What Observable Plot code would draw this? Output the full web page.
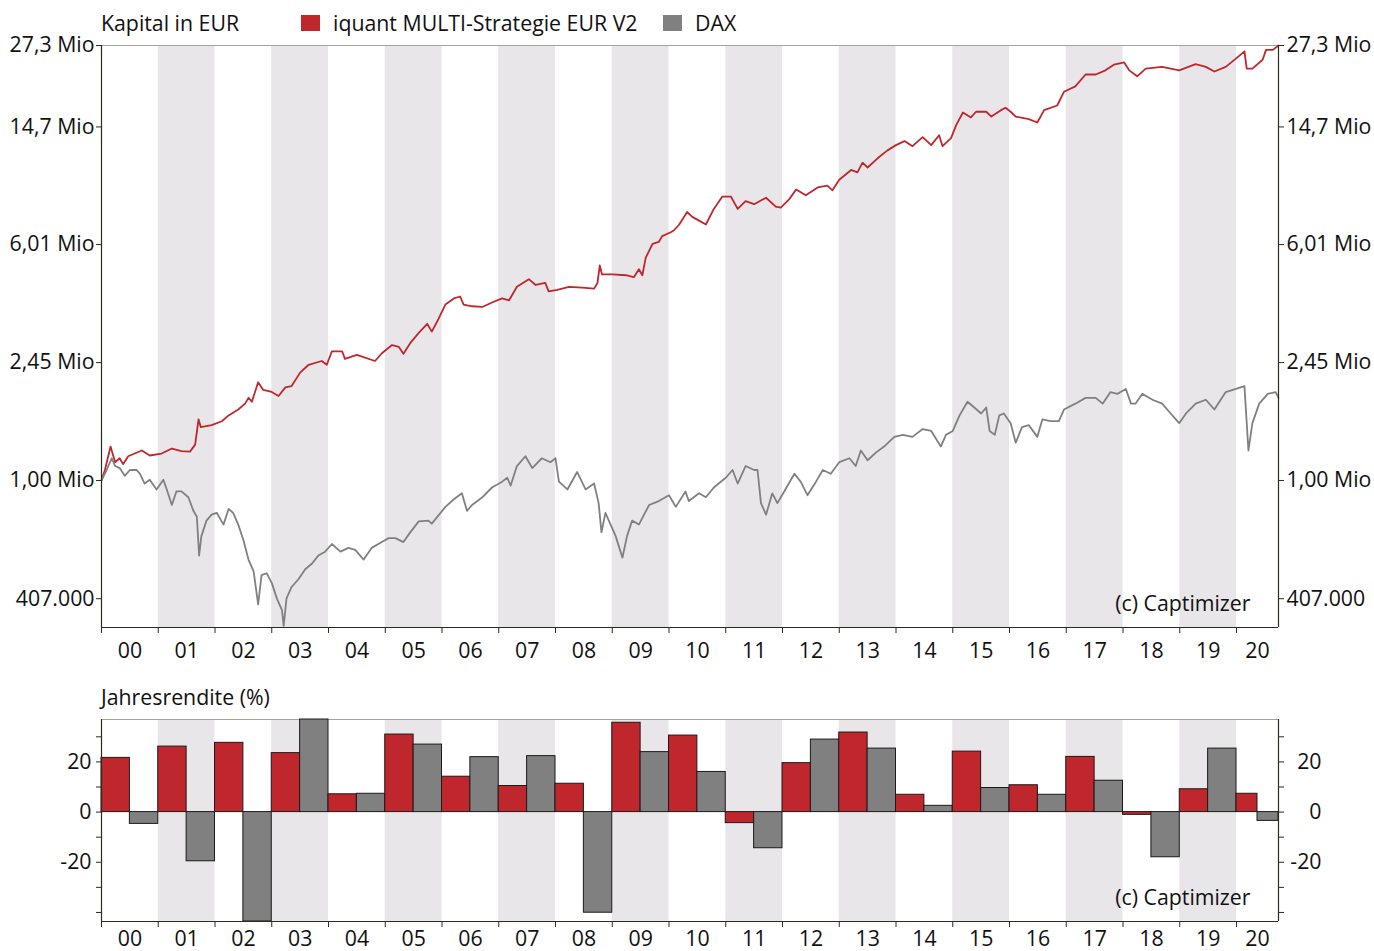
<!DOCTYPE html>
<html><head><meta charset="utf-8">
<script src="https://cdn.jsdelivr.net/npm/d3@7"></script>
<script src="https://cdn.jsdelivr.net/npm/@observablehq/plot@0.6"></script>
<style>
body{margin:0;background:#fff;font-family:"Open Sans",sans-serif;color:#111}
#wrap{position:relative;width:1374px;height:951px;overflow:hidden;background:#fff}
.abs{position:absolute}
.lbl{font-size:21.3px;line-height:22px;white-space:nowrap;color:#111}
.sw{position:absolute;width:19px;height:16px}
</style></head><body>
<div id="wrap">
 <div id="top" class="abs" style="left:0;top:0"></div>
 <div id="bot" class="abs" style="left:0;top:670px"></div>
 <div class="abs lbl" style="left:101px;top:12px">Kapital in EUR</div>
 <div class="sw" style="left:301px;top:15px;background:#c0272d"></div>
 <div class="abs lbl" style="left:333px;top:12px">iquant MULTI-Strategie EUR V2</div>
 <div class="sw" style="left:663px;top:15px;background:#808080"></div>
 <div class="abs lbl" style="left:695px;top:12px">DAX</div>
 <div class="abs lbl" style="left:101px;top:686px">Jahresrendite (%)</div>
</div>
<script>
// ---------------- DATA ----------------
const seriesNames = ["iquant MULTI-Strategie EUR V2", "DAX"];
const startYear = 2000, endYear = 2020.74;
const years = [2000,2001,2002,2003,2004,2005,2006,2007,2008,2009,2010,2011,2012,2013,2014,2015,2016,2017,2018,2019,2020];
const yearLabels = ["00","01","02","03","04","05","06","07","08","09","10","11","12","13","14","15","16","17","18","19","20"];

// Kapital (Mio EUR) – strategy
const redYears = [2000.00,2000.06,2000.16,2000.24,2000.32,2000.38,2000.47,2000.71,2000.85,2001.06,2001.24,2001.41,2001.56,2001.65,2001.71,2001.75,2001.94,2002.12,2002.24,2002.41,2002.53,2002.59,2002.65,2002.76,2002.85,2003.00,2003.12,2003.24,2003.35,2003.50,2003.65,2003.88,2003.97,2004.06,2004.24,2004.29,2004.50,2004.82,2004.94,2005.12,2005.24,2005.32,2005.44,2005.59,2005.74,2005.82,2005.94,2006.06,2006.21,2006.32,2006.38,2006.53,2006.71,2006.88,2007.06,2007.18,2007.32,2007.53,2007.65,2007.82,2007.88,2008.03,2008.24,2008.47,2008.68,2008.74,2008.78,2008.82,2009.00,2009.24,2009.38,2009.47,2009.53,2009.59,2009.71,2009.82,2009.88,2010.03,2010.09,2010.18,2010.32,2010.41,2010.53,2010.65,2010.79,2010.94,2011.09,2011.21,2011.35,2011.50,2011.71,2011.88,2011.97,2012.12,2012.24,2012.41,2012.62,2012.79,2012.88,2013.00,2013.21,2013.32,2013.41,2013.50,2013.68,2013.85,2014.00,2014.15,2014.29,2014.47,2014.62,2014.76,2014.82,2014.97,2015.06,2015.18,2015.32,2015.41,2015.59,2015.68,2015.85,2015.93,2016.02,2016.11,2016.34,2016.49,2016.61,2016.84,2016.96,2017.16,2017.34,2017.52,2017.69,2017.84,2018.02,2018.11,2018.25,2018.40,2018.69,2018.99,2019.28,2019.46,2019.61,2019.81,2019.99,2020.14,2020.18,2020.28,2020.46,2020.52,2020.64,2020.74];
const redValues = [1.00,1.083,1.294,1.149,1.184,1.132,1.202,1.256,1.209,1.227,1.275,1.249,1.245,1.313,1.592,1.50,1.523,1.569,1.640,1.715,1.793,1.874,1.82,2.11,1.99,1.96,1.90,2.03,2.05,2.27,2.41,2.48,2.41,2.67,2.67,2.52,2.60,2.48,2.63,2.80,2.76,2.62,2.84,3.07,3.29,3.10,3.42,3.81,3.99,4.05,3.81,3.76,3.74,3.87,3.99,3.93,4.36,4.62,4.42,4.49,4.21,4.26,4.36,4.33,4.30,4.49,5.13,4.79,4.79,4.76,4.69,4.98,4.76,5.44,6.04,6.13,6.41,6.60,6.70,7.00,7.70,7.42,7.21,7.00,7.88,8.66,8.66,7.88,8.36,8.17,8.58,8.02,7.96,8.49,9.14,8.74,9.28,9.41,9.08,9.84,10.6,10.4,11.2,10.8,11.6,12.3,12.8,13.2,12.7,13.6,12.8,13.8,12.7,13.5,14.9,16.4,15.8,16.5,16.5,15.9,16.7,17.0,16.5,15.9,15.6,15.2,16.7,17.3,19.2,20.0,21.9,21.9,22.6,23.6,24.0,22.6,21.6,22.9,23.2,22.6,23.7,23.2,22.4,23.2,24.7,26.1,22.9,22.9,24.5,26.4,26.4,27.3];

// Kapital (Mio EUR) – DAX
const daxYears = [2000.00,2000.09,2000.18,2000.24,2000.32,2000.41,2000.50,2000.62,2000.68,2000.76,2000.85,2000.97,2001.09,2001.15,2001.24,2001.32,2001.41,2001.53,2001.62,2001.68,2001.72,2001.76,2001.85,2001.94,2002.03,2002.15,2002.24,2002.32,2002.41,2002.50,2002.59,2002.68,2002.76,2002.82,2002.91,2003.00,2003.09,2003.18,2003.21,2003.26,2003.35,2003.47,2003.59,2003.71,2003.82,2003.94,2004.06,2004.21,2004.35,2004.47,2004.62,2004.76,2004.94,2005.06,2005.18,2005.32,2005.44,2005.59,2005.76,2005.82,2006.06,2006.21,2006.35,2006.44,2006.53,2006.71,2006.88,2007.06,2007.15,2007.21,2007.32,2007.47,2007.59,2007.76,2007.91,2008.00,2008.06,2008.21,2008.38,2008.53,2008.68,2008.76,2008.81,2008.88,2008.94,2009.06,2009.18,2009.26,2009.35,2009.47,2009.56,2009.65,2009.82,2010.00,2010.12,2010.29,2010.35,2010.53,2010.65,2010.79,2011.00,2011.12,2011.21,2011.35,2011.50,2011.56,2011.62,2011.71,2011.82,2011.91,2012.03,2012.21,2012.32,2012.44,2012.59,2012.71,2012.85,2013.00,2013.18,2013.29,2013.38,2013.50,2013.65,2013.79,2013.97,2014.12,2014.29,2014.47,2014.62,2014.79,2014.88,2015.00,2015.12,2015.26,2015.38,2015.50,2015.59,2015.65,2015.74,2015.82,2015.90,2016.02,2016.11,2016.22,2016.34,2016.49,2016.58,2016.72,2016.87,2016.96,2017.16,2017.34,2017.52,2017.64,2017.78,2017.90,2018.05,2018.14,2018.22,2018.34,2018.52,2018.69,2018.81,2018.99,2019.11,2019.28,2019.46,2019.61,2019.81,2019.99,2020.14,2020.21,2020.28,2020.40,2020.55,2020.69,2020.74];
const daxValues = [1.00,1.083,1.184,1.116,1.099,1.036,1.083,1.083,1.05,0.977,1.006,0.934,1.006,0.934,0.830,0.920,0.920,0.880,0.794,0.759,0.565,0.655,0.737,0.771,0.782,0.715,0.805,0.782,0.715,0.636,0.548,0.502,0.390,0.487,0.494,0.459,0.408,0.373,0.331,0.408,0.445,0.472,0.509,0.532,0.565,0.582,0.617,0.582,0.599,0.590,0.548,0.599,0.626,0.645,0.645,0.626,0.674,0.733,0.737,0.720,0.818,0.867,0.907,0.794,0.830,0.880,0.948,0.991,1.021,0.962,1.116,1.202,1.099,1.184,1.149,1.184,0.991,0.934,1.067,0.934,0.977,0.842,0.674,0.782,0.737,0.655,0.556,0.655,0.737,0.715,0.771,0.830,0.855,0.894,0.818,0.920,0.855,0.907,0.880,0.948,1.021,1.083,0.977,1.116,1.083,1.083,0.842,0.771,0.907,0.842,0.920,1.052,0.991,0.894,0.991,1.083,1.052,1.149,1.184,1.116,1.256,1.166,1.238,1.294,1.393,1.414,1.393,1.478,1.457,1.294,1.414,1.457,1.640,1.820,1.741,1.664,1.741,1.457,1.414,1.640,1.664,1.546,1.333,1.500,1.523,1.393,1.592,1.569,1.569,1.715,1.793,1.874,1.874,1.793,1.958,1.932,2.005,1.793,1.793,1.932,1.847,1.793,1.689,1.546,1.664,1.793,1.847,1.715,1.958,2.005,2.049,1.256,1.546,1.793,1.932,1.958,1.874];

// Jahresrendite (%)
const redReturns = [21.6,26.1,27.6,23.5,7.1,30.9,14.1,10.4,11.3,35.6,30.5,-4.4,19.5,31.7,6.9,24.1,10.7,22.0,-1.1,9.1,7.3];
const daxReturns = [-4.7,-19.6,-43.6,36.9,7.3,26.9,21.9,22.3,-40.1,23.9,16.0,-14.4,28.9,25.3,2.5,9.6,6.9,12.5,-18.0,25.3,-3.5];

// Axis ticks
const capTicks = [0.407, 1.00, 2.45, 6.01, 14.7, 27.3];
const capTickLabels = ["407.000", "1,00 Mio", "2,45 Mio", "6,01 Mio", "14,7 Mio", "27,3 Mio"];
const capDomain = [0.327, 27.3];
const retTicks = [-40,-30,-20,-10,0,10,20,30];
const retTickLabels = ["", "", "-20", "", "0", "", "20", ""];
const credit = "(c) Captimizer";

// ---------------- STYLE ----------------
const RED = "#c0272d", GRAY = "#808080", BAND = "#e8e6e8", AXIS = "#2b2b1f", TOPLINE = "#a5a596";
const FS = 21.3;
const font = {fontFamily: "'Open Sans', sans-serif", fontSize: FS + "px", color: "#111", background: "transparent", overflow: "visible"};

// ---------------- DERIVED TABLES ----------------
const nearest = (ticks, labels) => d => {
  let bi = 0, bd = Infinity;
  ticks.forEach((t, i) => { const dd = Math.abs(t - d); if (dd < bd) { bd = dd; bi = i; } });
  return labels[bi];
};
const yearEnd = y => Math.min(y + 1, endYear);
const bands = years.filter(y => y % 2 === 1).map(y => ({x1: y, x2: yearEnd(y)}));
const mids = years.map(y => (y + yearEnd(y)) / 2);
const lineRows = [
  ...redYears.map((t, i) => ({t, v: redValues[i], s: seriesNames[0]})),
  ...daxYears.map((t, i) => ({t, v: daxValues[i], s: seriesNames[1]}))
];
const barRows = years.flatMap((y, i) => {
  const m = mids[i];
  return [
    {x1: y, x2: m, v: redReturns[i], s: seriesNames[0]},
    {x1: m, x2: yearEnd(y), v: daxReturns[i], s: seriesNames[1]}
  ];
});
const capRows = capTicks.map((t, i) => ({t, label: capTickLabels[i]}));
const colorScale = {domain: seriesNames, range: [RED, GRAY]};

function xAxes(labelPad) {
  return [
    Plot.axisX({ticks: years, tickSize: 6, tickFormat: () => "", stroke: AXIS, label: null}),
    Plot.axisX({ticks: mids, tickSize: 0, tickPadding: labelPad, tickFormat: nearest(mids, yearLabels), fill: "#111", label: null})
  ];
}

// ---------------- TOP CHART ----------------
const topPlot = Plot.plot({
  width: 1374, height: 665,
  marginTop: 45, marginBottom: 38, marginLeft: 101, marginRight: 96,
  style: font,
  x: {domain: [startYear, endYear], label: null},
  y: {type: "log", domain: capDomain, label: null},
  color: colorScale,
  marks: [
    Plot.rect(bands, {x1: "x1", x2: "x2", fill: BAND}),
    Plot.ruleY([capDomain[1]], {stroke: TOPLINE, strokeWidth: 1.2}),
    Plot.line(lineRows, {x: "t", y: "v", z: "s", stroke: "s", strokeWidth: 1.8, strokeLinejoin: "round"}),
    Plot.ruleX([startYear, endYear], {stroke: AXIS, strokeWidth: 1.2}),
    Plot.ruleY([capDomain[0]], {stroke: AXIS, strokeWidth: 1.2}),
    ...xAxes(15),
    Plot.axisY({anchor: "left", ticks: capTicks, tickFormat: () => "", tickSize: 5, stroke: AXIS, label: null}),
    Plot.axisY({anchor: "right", ticks: capTicks, tickFormat: () => "", tickSize: 5, stroke: AXIS, label: null}),
    Plot.text(capRows, {x: startYear, y: "t", text: "label", textAnchor: "end", dx: -7, fill: "#111", fontSize: FS}),
    Plot.text(capRows, {x: endYear, y: "t", text: "label", textAnchor: "start", dx: 8, fill: "#111", fontSize: FS}),
    Plot.text([credit], {frameAnchor: "bottom-right", textAnchor: "end", lineAnchor: "middle", dx: -28, dy: -23, fill: "#111", fontSize: FS})
  ]
});
document.getElementById("top").appendChild(topPlot);

// ---------------- BOTTOM CHART ----------------
const allRet = redReturns.concat(daxReturns);
const retDomain = [d3.min(allRet), d3.max(allRet)];
const retFmt = nearest(retTicks, retTickLabels);
const botPlot = Plot.plot({
  width: 1374, height: 281,
  marginTop: 49, marginBottom: 30, marginLeft: 101, marginRight: 96,
  style: font,
  x: {domain: [startYear, endYear], label: null},
  y: {domain: retDomain, label: null},
  color: colorScale,
  marks: [
    Plot.rect(bands, {x1: "x1", x2: "x2", fill: BAND}),
    Plot.ruleY([retDomain[1]], {stroke: TOPLINE, strokeWidth: 1.2}),
    Plot.rect(barRows, {x1: "x1", x2: "x2", y1: 0, y2: "v", fill: "s", stroke: "#1a1a1a", strokeWidth: 1}),
    Plot.ruleX([startYear, endYear], {stroke: AXIS, strokeWidth: 1.2}),
    Plot.ruleY([retDomain[0]], {stroke: AXIS, strokeWidth: 1.2}),
    ...xAxes(9),
    Plot.axisY({anchor: "left", ticks: retTicks, tickFormat: retFmt, tickSize: 5, tickPadding: 5, stroke: AXIS, fill: "#111", label: null}),
    Plot.axisY({anchor: "right", ticks: retTicks, tickFormat: retFmt, tickSize: 5, tickPadding: 38, textAnchor: "end", stroke: AXIS, fill: "#111", label: null}),
    Plot.text([credit], {frameAnchor: "bottom-right", textAnchor: "end", lineAnchor: "middle", dx: -28, dy: -23, fill: "#111", fontSize: FS})
  ]
});
document.getElementById("bot").appendChild(botPlot);
</script>
</body></html>
